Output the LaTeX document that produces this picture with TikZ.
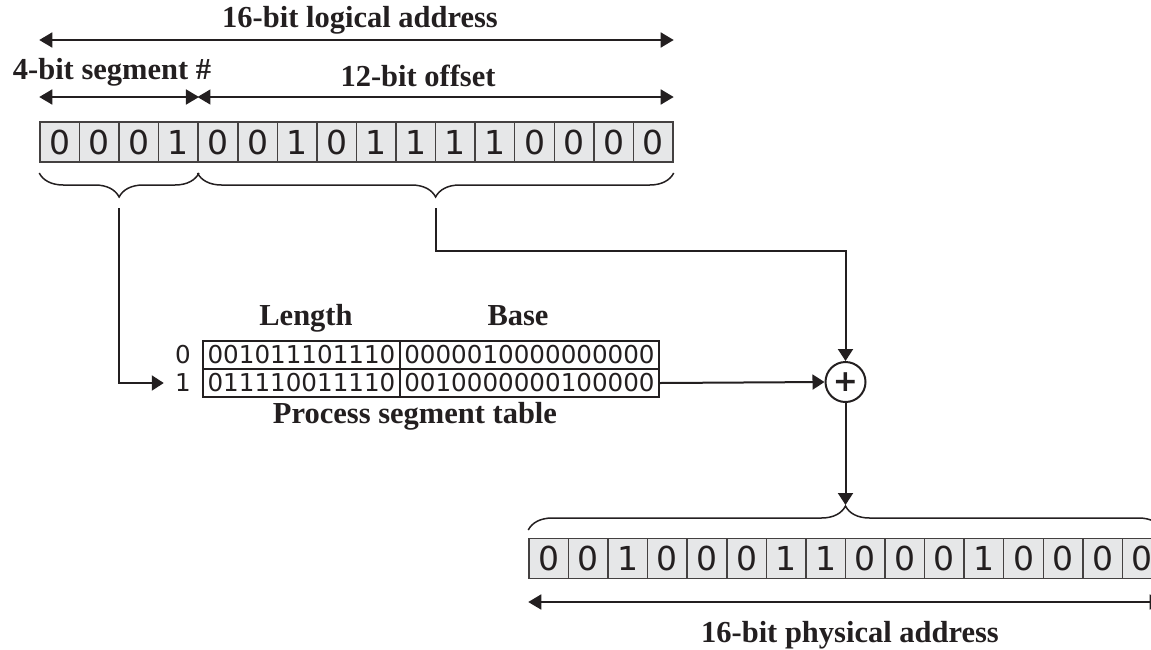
\documentclass[tikz,border=0pt]{standalone}
\usepackage{fontspec}
\setmainfont{Liberation Serif}
\newfontfamily\bitfont{DejaVu Sans}
\newfontfamily\plusfont{DejaVu Sans}
\usetikzlibrary{arrows.meta,decorations.pathreplacing,calc}
\definecolor{cellgray}{HTML}{E6E7E8}
\definecolor{ink}{HTML}{231F20}

\begin{document}
\begin{tikzpicture}[x=0.5pt,y=-0.5pt,
	bit/.style={draw=ink!85, fill=cellgray, line width=0.75pt, minimum width=19.78pt,
		minimum height=20pt, inner sep=0pt, text=ink, font=\bitfont\fontsize{16.5}{17}\selectfont},
	heading/.style={anchor=base, inner sep=0pt, text=ink, font=\bfseries\fontsize{15.25}{17}\selectfont},
	entry/.style={draw=ink, line width=1pt, minimum height=14pt, inner sep=0pt,
		text=ink, font=\bitfont\fontsize{12.3}{13}\selectfont},
	rowno/.style={inner xsep=5.5pt, inner ysep=0pt, text=ink, font=\bitfont\fontsize{12.3}{13}\selectfont},
	adder/.style={circle, draw=ink, line width=1pt, minimum size=20pt, inner sep=0pt,
		text=ink, font=\plusfont\bfseries\fontsize{15}{15}\selectfont},
	dim/.style={{Triangle[length=6.5pt,width=7.5pt]}-{Triangle[length=6.5pt,width=7.5pt]}, line width=0.85pt, draw=ink},
	link/.style={-{Triangle[length=6pt,width=7.5pt]}, line width=1pt, draw=ink},
	grp/.style={decorate, decoration={brace, amplitude=12pt}, line width=0.75pt, draw=ink}
	]
\useasboundingbox (0,0) rectangle (1151,649);

% logical address
\foreach \b [count=\i] in {0,0,0,1,0,0,1,0,1,1,1,1,0,0,0,0}
	\node[bit] (l\i) at ({40+39.56*(\i-0.5)},142) {\b};

\node[heading] (logical) at (360,27) {16-bit logical address};
\node[heading] (segno) at (112,79) {4-bit segment \#};
\node[heading] (offset) at (418,86) {12-bit offset};

\draw[dim] (l1.west |- 0,40) -- (l16.east |- 0,40);
\draw[dim] (l1.west |- 0,97) -- (l4.east |- 0,97);
\draw[dim] (l5.west |- 0,97) -- (l16.east |- 0,97);

\draw[grp, decoration={mirror}] (l1.west |- 0,173) -- (l4.east |- 0,173);
\draw[grp, decoration={mirror}] (l5.west |- 0,173) -- (l16.east |- 0,173);
\coordinate (segtip) at ($(l1.west |- 0,208)!0.5!(l4.east |- 0,208)$);
\coordinate (offtip) at ($(l5.west |- 0,208)!0.5!(l16.east |- 0,208)$);
\coordinate (offbend) at (offtip |- 0,251);

% segment table
\node[heading] (lenhead) at (306,325) {Length};
\node[heading] (basehead) at (518,325) {Base};
\node[entry, minimum width=98.5pt] (len0) at (301.5,355) {001011101110};
\node[entry, minimum width=129.5pt] (base0) at (529.5,355) {0000010000000000};
\node[entry, minimum width=98.5pt] (len1) at (301.5,383) {011110011110};
\node[entry, minimum width=129.5pt] (base1) at (529.5,383) {0010000000100000};
\node[rowno] (row0) at (183,355) {0};
\node[rowno] (row1) at (183,383) {1};
\node[heading] (tabname) at (415,423) {Process segment table};

% physical address
\foreach \b [count=\i] in {0,0,1,0,0,0,1,1,0,0,0,1,0,0,0,0}
	\node[bit] (p\i) at ({529+39.56*(\i-0.5)},558.5) {\b};
\node[adder] (adder) at (845.5,382) {+};
\draw[grp] (p1.west |- 0,530) -- (p16.east |- 0,530);
\draw[dim] (p1.west |- 0,602) -- (p16.east |- 0,602);
\node[heading] (physical) at (850,642) {16-bit physical address};

\draw[link] (segtip) |- (row1.west);
\draw[link] (offtip) -- (offbend) -| (adder.north);
\draw[link] (base1.east) -- (adder.west);
\draw[link] (adder.south) -- (adder.south |- 0,505);
\end{tikzpicture}
\end{document}
